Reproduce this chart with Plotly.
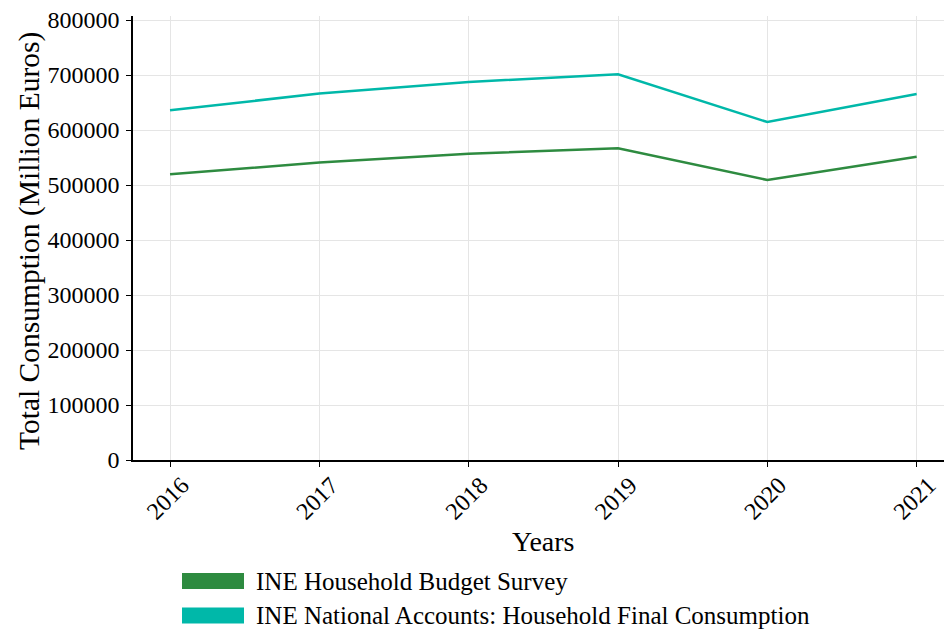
import plotly.graph_objects as go

years = [2016, 2017, 2018, 2019, 2020, 2021]
hbs = [519400, 541000, 556900, 566700, 509100, 551500]
national_accounts = [635800, 666300, 687300, 701300, 614500, 665500]
series_names = ["INE Household Budget Survey",
                "INE National Accounts: Household Final Consumption"]
colors = ["#2E8B40", "#00B8A9"]
yticks = [0, 100000, 200000, 300000, 400000, 500000, 600000, 700000, 800000]

FONT = "Liberation Serif"

fig = go.Figure()
for name, vals, col in zip(series_names, [hbs, national_accounts], colors):
    fig.add_trace(go.Scatter(x=years, y=vals, mode="lines", name=name,
                             line=dict(color=col, width=2.5), showlegend=False))

L, R, T, B = 133, 944, 16, 460
W, H = R - L, B - T
def px(x):
    return (x - L) / W
def py(y):
    return (B - y) / H

shapes = []
annotations = []
leg_rows = [(573, 589, 581), (607.5, 623.5, 615.5)]
for (y0, y1, yc), name, col in zip(leg_rows, series_names, colors):
    shapes.append(dict(type="rect", xref="paper", yref="paper",
                       x0=px(182), x1=px(244), y0=py(y0), y1=py(y1),
                       fillcolor=col, line=dict(width=0)))
    annotations.append(dict(text=name, xref="paper", yref="paper",
                            x=px(254), y=py(yc), xanchor="left", yanchor="middle",
                            showarrow=False, font=dict(family=FONT, size=25, color="black")))

annotations.append(dict(text="Years", xref="paper", yref="paper", x=px(543.5), y=py(541),
                        xanchor="center", yanchor="middle", showarrow=False,
                        font=dict(family=FONT, size=28, color="black")))
annotations.append(dict(text="Total Consumption (Million Euros)", xref="paper", yref="paper",
                        x=px(29), y=py(241), xanchor="center", yanchor="middle",
                        textangle=-90, showarrow=False,
                        font=dict(family=FONT, size=29.5, color="black")))

fig.update_layout(
    width=944, height=630,
    margin=dict(l=L, r=0, t=T, b=630 - B, pad=0),
    plot_bgcolor="white", paper_bgcolor="white",
    font=dict(family=FONT, size=24, color="black"),
    shapes=shapes, annotations=annotations,
    showlegend=False,
)
fig.update_xaxes(range=[2015.752, 2021.183], tickmode="array", tickvals=years,
                 ticktext=[str(y) for y in years], tickangle=-45,
                 ticklabelshift=12, ticklabelstandoff=-5,
                 showgrid=True, gridcolor="#E5E5E5", gridwidth=1,
                 showline=True, linecolor="black", linewidth=1.5,
                 ticks="outside", ticklen=5, tickwidth=1.2, tickcolor="black",
                 zeroline=False, tickfont=dict(family=FONT, size=24))
fig.update_yaxes(range=[0, 807273], tickmode="array", tickvals=yticks,
                 ticktext=[str(v) for v in yticks], ticklabelstandoff=2,
                 showgrid=True, gridcolor="#E5E5E5", gridwidth=1,
                 showline=True, linecolor="black", linewidth=1.5,
                 ticks="outside", ticklen=5, tickwidth=1.2, tickcolor="black",
                 zeroline=False, tickfont=dict(family=FONT, size=24))

fig.write_html("out.html", config={"displayModeBar": False},
               post_script="document.body.style.margin='0';document.body.style.overflow='hidden';")
